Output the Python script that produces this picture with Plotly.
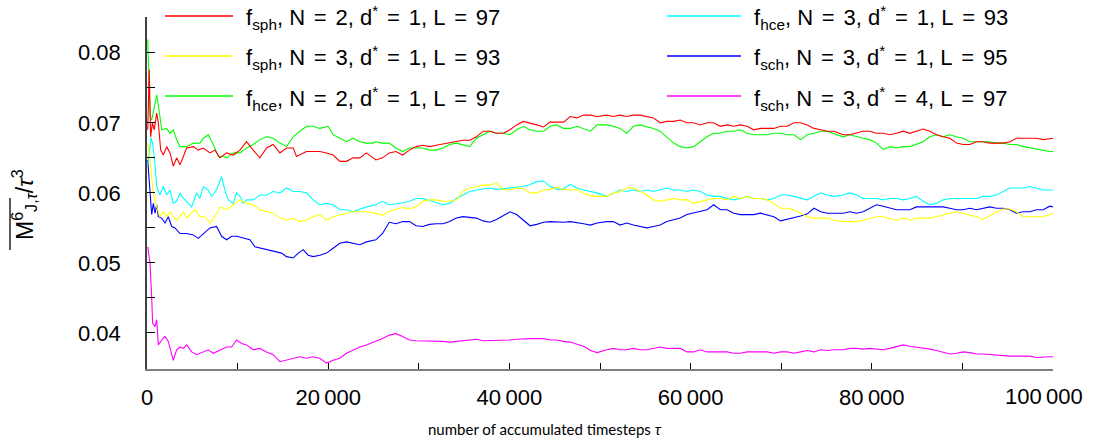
import plotly.graph_objects as go

# ---------------- data ----------------
# early part, tau < 25 000 (each series was read at its own tau positions)
tau_early_red = [80, 250, 400, 600, 800, 1070, 1250, 1510, 1800, 2170, 2540, 2900, 3270, 3640, 4010, 4370, 5110, 5660, 6210, 6950,
                 7500, 8050, 8790, 9520, 10260, 10990, 11730, 12460, 13200, 13930, 14670, 15400, 16140, 16500, 17600, 19080, 19810, 20550, 21280, 22020,
                 22750, 23490, 24220, 24960]
m_early_red = [0.0690, 0.0776, 0.0680, 0.0700, 0.0690, 0.0714, 0.0700, 0.0661, 0.0654, 0.0666, 0.0657, 0.0638, 0.0650, 0.0640, 0.0652, 0.0664, 0.0666, 0.0661, 0.0664, 0.0657,
               0.0661, 0.0650, 0.0657, 0.0654, 0.0661, 0.0673, 0.0661, 0.0650, 0.0664, 0.0669, 0.0657, 0.0664, 0.0664, 0.0652, 0.0659, 0.0659, 0.0657, 0.0654, 0.0645, 0.0645,
               0.0650, 0.0650, 0.0657, 0.0650]

tau_early_yellow = [80, 300, 700, 1070, 1430, 1800, 2170, 2540, 2900, 3270, 3640, 4010, 4370, 4740, 5290, 5840, 6400, 6950, 7500, 8050,
                    8790, 9520, 10260, 10990, 11730, 12460, 13200, 13930, 14670, 15400, 16140, 16870, 17610, 18340, 19080, 19810, 20550, 21280, 22020, 22750,
                    23490, 24220]
m_early_yellow = [0.0671, 0.0650, 0.0600, 0.0580, 0.0566, 0.0573, 0.0566, 0.0573, 0.0566, 0.0561, 0.0566, 0.0573, 0.0564, 0.0569, 0.0576, 0.0566, 0.0566, 0.0557, 0.0566, 0.0580,
                  0.0576, 0.0583, 0.0590, 0.0585, 0.0583, 0.0576, 0.0573, 0.0571, 0.0564, 0.0561, 0.0564, 0.0559, 0.0561, 0.0566, 0.0569, 0.0561, 0.0566, 0.0569, 0.0571, 0.0573,
                  0.0573, 0.0573]

tau_early_green = [80, 350, 520, 770, 1070, 1320, 1620, 2170, 2540, 2900, 3270, 3640, 4010, 4370, 5110, 5840, 6210, 6760, 7320, 7870,
                   8420, 8790, 9520, 10260, 10990, 11730, 12460, 13200, 13930, 14670, 15400, 16140, 16870, 17610, 18340, 19080, 20000, 20550, 21280, 22020,
                   22750, 23490, 24220, 24960]
m_early_green = [0.0819, 0.0710, 0.0704, 0.0719, 0.0740, 0.0719, 0.0690, 0.0692, 0.0685, 0.0690, 0.0676, 0.0666, 0.0666, 0.0666, 0.0671, 0.0671, 0.0678, 0.0683, 0.0669, 0.0652,
                 0.0652, 0.0650, 0.0657, 0.0657, 0.0664, 0.0669, 0.0676, 0.0680, 0.0678, 0.0671, 0.0666, 0.0680, 0.0688, 0.0695, 0.0695, 0.0692, 0.0695, 0.0683, 0.0678, 0.0673,
                 0.0678, 0.0673, 0.0671, 0.0671]

tau_early_cyan = [80, 450, 620, 880, 1070, 1430, 1800, 2170, 2540, 2900, 3270, 3640, 4010, 4370, 4930, 5480, 5840, 6210, 6760, 7130,
                  7680, 8230, 8600, 8970, 9520, 9890, 10260, 10620, 10990, 11730, 12460, 13200, 13930, 14670, 15400, 16140, 16870, 17610, 18340, 19080,
                  19810, 20550, 21280, 22020, 22750, 23490, 24220]
m_early_cyan = [0.0640, 0.0679, 0.0670, 0.0642, 0.0609, 0.0597, 0.0609, 0.0597, 0.0604, 0.0585, 0.0588, 0.0600, 0.0592, 0.0588, 0.0580, 0.0600, 0.0592, 0.0609, 0.0604, 0.0595,
                0.0604, 0.0623, 0.0604, 0.0590, 0.0585, 0.0600, 0.0595, 0.0585, 0.0590, 0.0590, 0.0597, 0.0597, 0.0602, 0.0600, 0.0607, 0.0602, 0.0602, 0.0600, 0.0590, 0.0583,
                0.0585, 0.0583, 0.0576, 0.0576, 0.0573, 0.0576, 0.0580]

tau_early_blue = [80, 300, 515, 700, 880, 1070, 1250, 1620, 1990, 2350, 2720, 3090, 3640, 4370, 5110, 5660, 6210, 6950, 7680, 8230,
                  8790, 9340, 9890, 10620, 11360, 11910, 12650, 13380, 14120, 14850, 15400, 16140, 16690, 17240, 17790, 18340, 19080, 19810, 20550, 21280,
                  22020, 22750, 23490, 24220]
m_early_blue = [0.0647, 0.0600, 0.0569, 0.0585, 0.0571, 0.0583, 0.0566, 0.0564, 0.0557, 0.0566, 0.0552, 0.0550, 0.0542, 0.0542, 0.0540, 0.0535, 0.0542, 0.0550, 0.0552, 0.0538,
                0.0533, 0.0538, 0.0538, 0.0535, 0.0533, 0.0523, 0.0521, 0.0519, 0.0516, 0.0514, 0.0509, 0.0507, 0.0514, 0.0519, 0.0511, 0.0509, 0.0511, 0.0514, 0.0521, 0.0528,
                0.0530, 0.0528, 0.0526, 0.0530]

tau_early_magenta = [80, 330, 515, 620, 880, 1070, 1250, 1620, 1990, 2350, 2900, 3270, 3640, 4010, 4370, 4930, 5480, 6210, 6760, 7320,
                     8050, 8790, 9340, 9890, 10440, 10990, 11730, 12460, 13200, 13930, 14670, 15400, 16140, 16870, 17610, 18340, 19080, 19810, 20550, 21280,
                     22020, 22750, 23490, 24220]
m_early_magenta = [0.0523, 0.0500, 0.0452, 0.0414, 0.0409, 0.0419, 0.0383, 0.0390, 0.0395, 0.0388, 0.0361, 0.0376, 0.0380, 0.0378, 0.0383, 0.0373, 0.0369, 0.0373, 0.0376, 0.0371,
                   0.0376, 0.0380, 0.0380, 0.0390, 0.0385, 0.0383, 0.0376, 0.0378, 0.0373, 0.0369, 0.0359, 0.0361, 0.0364, 0.0366, 0.0364, 0.0366, 0.0364, 0.0357, 0.0361, 0.0364,
                   0.0371, 0.0376, 0.0380, 0.0383]

# middle part, shared tau positions
tau_mid = [25260, 26000, 26740, 27480, 28220, 28960, 29700, 30440, 31180, 31920, 32660, 33400, 34140, 34880, 35620, 36360, 37100, 37840, 38580, 39320,
           40060, 40800, 41540, 42280, 43020, 43760, 44500, 45240, 45980, 46720, 47460, 48200, 48940, 49680]
m_mid_red = [0.0647, 0.0650, 0.0657, 0.0659, 0.0654, 0.0661, 0.0666, 0.0668, 0.0666, 0.0668, 0.0670, 0.0671, 0.0674, 0.0675, 0.0675, 0.0680, 0.0688, 0.0688, 0.0685, 0.0685,
             0.0690, 0.0697, 0.0702, 0.0700, 0.0697, 0.0694, 0.0701, 0.0701, 0.0701, 0.0709, 0.0707, 0.0711, 0.0711, 0.0709]
m_mid_yellow = [0.0571, 0.0568, 0.0574, 0.0577, 0.0579, 0.0577, 0.0580, 0.0588, 0.0590, 0.0590, 0.0588, 0.0588, 0.0590, 0.0602, 0.0607, 0.0609, 0.0611, 0.0611, 0.0614, 0.0605,
                0.0604, 0.0607, 0.0606, 0.0600, 0.0600, 0.0604, 0.0605, 0.0608, 0.0605, 0.0604, 0.0605, 0.0599, 0.0596, 0.0595]
m_mid_green = [0.0673, 0.0671, 0.0671, 0.0664, 0.0659, 0.0664, 0.0664, 0.0664, 0.0661, 0.0661, 0.0664, 0.0669, 0.0671, 0.0669, 0.0666, 0.0678, 0.0683, 0.0688, 0.0685, 0.0685,
               0.0683, 0.0690, 0.0695, 0.0690, 0.0688, 0.0688, 0.0695, 0.0697, 0.0692, 0.0692, 0.0695, 0.0692, 0.0688, 0.0697]
m_mid_cyan = [0.0583, 0.0588, 0.0583, 0.0584, 0.0586, 0.0588, 0.0592, 0.0592, 0.0589, 0.0586, 0.0583, 0.0585, 0.0592, 0.0597, 0.0602, 0.0604, 0.0605, 0.0607, 0.0605, 0.0606,
              0.0608, 0.0608, 0.0609, 0.0612, 0.0616, 0.0617, 0.0609, 0.0605, 0.0606, 0.0612, 0.0607, 0.0604, 0.0602, 0.0600]
m_mid_blue = [0.0533, 0.0542, 0.0558, 0.0556, 0.0559, 0.0559, 0.0553, 0.0552, 0.0555, 0.0556, 0.0556, 0.0559, 0.0564, 0.0566, 0.0565, 0.0564, 0.0560, 0.0558, 0.0562, 0.0567,
              0.0573, 0.0569, 0.0561, 0.0553, 0.0555, 0.0558, 0.0559, 0.0558, 0.0558, 0.0559, 0.0558, 0.0556, 0.0554, 0.0557]
m_mid_magenta = [0.0388, 0.0392, 0.0397, 0.0399, 0.0395, 0.0390, 0.0389, 0.0389, 0.0389, 0.0389, 0.0388, 0.0387, 0.0388, 0.0390, 0.0391, 0.0391, 0.0389, 0.0389, 0.0390, 0.0390,
                 0.0390, 0.0391, 0.0392, 0.0392, 0.0392, 0.0392, 0.0390, 0.0390, 0.0388, 0.0387, 0.0384, 0.0381, 0.0375, 0.0372]

# late part, shared tau positions
tau_late = [50740, 51480, 52210, 52950, 53690, 54430, 55170, 55900, 56640, 57380, 58120, 58860, 59590, 60330, 61070, 61810, 62550, 63280, 64020, 64760,
            65500, 66240, 66970, 67710, 68450, 69190, 69930, 70660, 71400, 72140, 72880, 73620, 74350, 75090, 75830,
            76840, 77570, 78310, 79040, 79780, 80520, 81250, 81990, 82720, 83460, 84200, 84930, 85670, 86400, 87140, 87880, 88610, 89350, 90080, 90820,
            91560, 92290, 93030, 93760, 94500, 95240, 95970, 96710, 97440, 98180, 98920, 99650, 100000]
m_late_red = [0.0711, 0.0709, 0.0711, 0.0709, 0.0711, 0.0711, 0.0709, 0.0707, 0.0700, 0.0702, 0.0702, 0.0704, 0.0700, 0.0700, 0.0697, 0.0700, 0.0700, 0.0695, 0.0697, 0.0695,
              0.0697, 0.0695, 0.0690, 0.0692, 0.0692, 0.0692, 0.0695, 0.0695, 0.0700, 0.0700, 0.0697, 0.0692, 0.0690, 0.0688, 0.0688,
              0.0683, 0.0683, 0.0685, 0.0688, 0.0688, 0.0685, 0.0685, 0.0683, 0.0685, 0.0688, 0.0685, 0.0688, 0.0691, 0.0688, 0.0683, 0.0680, 0.0678, 0.0671, 0.0669, 0.0669,
              0.0673, 0.0673, 0.0671, 0.0671, 0.0671, 0.0673, 0.0678, 0.0678, 0.0678, 0.0678, 0.0676, 0.0678, 0.0678]
m_late_yellow = [0.0595, 0.0600, 0.0602, 0.0607, 0.0607, 0.0602, 0.0597, 0.0590, 0.0588, 0.0590, 0.0592, 0.0590, 0.0590, 0.0585, 0.0588, 0.0590, 0.0592, 0.0592, 0.0590, 0.0595,
                 0.0592, 0.0595, 0.0592, 0.0592, 0.0590, 0.0585, 0.0578, 0.0578, 0.0576, 0.0571, 0.0566, 0.0564, 0.0564, 0.0564, 0.0561,
                 0.0559, 0.0559, 0.0559, 0.0561, 0.0564, 0.0566, 0.0566, 0.0564, 0.0561, 0.0564, 0.0561, 0.0564, 0.0564, 0.0564, 0.0566, 0.0569, 0.0571, 0.0573, 0.0571, 0.0569,
                 0.0566, 0.0562, 0.0568, 0.0573, 0.0577, 0.0577, 0.0573, 0.0566, 0.0566, 0.0566, 0.0566, 0.0569, 0.0571]
m_late_green = [0.0697, 0.0695, 0.0692, 0.0685, 0.0695, 0.0697, 0.0695, 0.0692, 0.0688, 0.0680, 0.0671, 0.0666, 0.0664, 0.0666, 0.0673, 0.0680, 0.0685, 0.0685, 0.0688, 0.0688,
                0.0690, 0.0685, 0.0683, 0.0683, 0.0683, 0.0685, 0.0685, 0.0683, 0.0683, 0.0676, 0.0683, 0.0685, 0.0688, 0.0688, 0.0685,
                0.0680, 0.0683, 0.0680, 0.0678, 0.0676, 0.0671, 0.0662, 0.0666, 0.0664, 0.0666, 0.0666, 0.0669, 0.0673, 0.0680, 0.0683, 0.0680, 0.0683, 0.0680, 0.0678, 0.0673,
                0.0673, 0.0673, 0.0673, 0.0671, 0.0671, 0.0669, 0.0669, 0.0666, 0.0664, 0.0662, 0.0661, 0.0659, 0.0659]
m_late_cyan = [0.0595, 0.0600, 0.0604, 0.0602, 0.0604, 0.0602, 0.0604, 0.0602, 0.0604, 0.0607, 0.0604, 0.0604, 0.0602, 0.0604, 0.0602, 0.0597, 0.0595, 0.0595, 0.0592, 0.0590,
               0.0592, 0.0595, 0.0592, 0.0592, 0.0590, 0.0592, 0.0597, 0.0597, 0.0595, 0.0592, 0.0590, 0.0595, 0.0600, 0.0597, 0.0595,
               0.0597, 0.0600, 0.0597, 0.0592, 0.0592, 0.0592, 0.0590, 0.0592, 0.0592, 0.0590, 0.0592, 0.0595, 0.0588, 0.0583, 0.0585, 0.0590, 0.0592, 0.0592, 0.0592, 0.0592,
               0.0592, 0.0595, 0.0595, 0.0597, 0.0602, 0.0607, 0.0607, 0.0607, 0.0609, 0.0607, 0.0604, 0.0604, 0.0604]
m_late_blue = [0.0559, 0.0559, 0.0554, 0.0557, 0.0554, 0.0552, 0.0550, 0.0552, 0.0554, 0.0559, 0.0561, 0.0564, 0.0569, 0.0571, 0.0573, 0.0576, 0.0583, 0.0576, 0.0576, 0.0571,
               0.0569, 0.0569, 0.0569, 0.0571, 0.0569, 0.0566, 0.0560, 0.0562, 0.0565, 0.0567, 0.0570, 0.0578, 0.0573, 0.0571, 0.0571,
               0.0571, 0.0573, 0.0571, 0.0573, 0.0578, 0.0583, 0.0581, 0.0578, 0.0576, 0.0576, 0.0576, 0.0580, 0.0580, 0.0580, 0.0580, 0.0580, 0.0578, 0.0576, 0.0576, 0.0578,
               0.0576, 0.0578, 0.0580, 0.0578, 0.0578, 0.0576, 0.0571, 0.0573, 0.0573, 0.0576, 0.0576, 0.0581, 0.0580]
m_late_magenta = [0.0376, 0.0378, 0.0376, 0.0376, 0.0378, 0.0376, 0.0376, 0.0378, 0.0380, 0.0378, 0.0378, 0.0378, 0.0373, 0.0373, 0.0376, 0.0373, 0.0373, 0.0373, 0.0373, 0.0371,
                  0.0371, 0.0373, 0.0373, 0.0373, 0.0373, 0.0371, 0.0373, 0.0373, 0.0371, 0.0373, 0.0375, 0.0373, 0.0376, 0.0375, 0.0376,
                  0.0376, 0.0378, 0.0378, 0.0377, 0.0378, 0.0377, 0.0376, 0.0378, 0.0381, 0.0383, 0.0381, 0.0380, 0.0378, 0.0377, 0.0375, 0.0372, 0.0370, 0.0371, 0.0373, 0.0372,
                  0.0370, 0.0370, 0.0369, 0.0368, 0.0367, 0.0367, 0.0367, 0.0367, 0.0367, 0.0365, 0.0366, 0.0366, 0.0366]

SP = "\u2009\u2009"  # wider gap around "=" like in the reference
labels = [f"f<sub>sph</sub>, N{SP}={SP}2, d<sup>*</sup>{SP}={SP}1, L{SP}={SP}97",
          f"f<sub>sph</sub>, N{SP}={SP}3, d<sup>*</sup>{SP}={SP}1, L{SP}={SP}93",
          f"f<sub>hce</sub>, N{SP}={SP}2, d<sup>*</sup>{SP}={SP}1, L{SP}={SP}97",
          f"f<sub>hce</sub>, N{SP}={SP}3, d<sup>*</sup>{SP}={SP}1, L{SP}={SP}93",
          f"f<sub>sch</sub>, N{SP}={SP}3, d<sup>*</sup>{SP}={SP}1, L{SP}={SP}95",
          f"f<sub>sch</sub>, N{SP}={SP}3, d<sup>*</sup>{SP}={SP}4, L{SP}={SP}97"]
colors = ["#ff0000", "#ffff00", "#00ff00", "#00ffff", "#0000ff", "#ff00ff"]

x_tickvals = [0, 20000, 40000, 60000, 80000, 100000]
x_ticktext = ["0", "20\u2009000", "40\u2009000", "60\u2009000", "80\u2009000", ""]
x_last_label = "100\u2009000"   # drawn slightly left of its tick, as in the reference
y_tickvals = [0.04, 0.05, 0.06, 0.07, 0.08]
y_ticktext = ["0.04", "0.05", "0.06", "0.07", "0.08"]

series = [
    (tau_early_red + tau_mid + tau_late, m_early_red + m_mid_red + m_late_red),
    (tau_early_yellow + tau_mid + tau_late, m_early_yellow + m_mid_yellow + m_late_yellow),
    (tau_early_green + tau_mid + tau_late, m_early_green + m_mid_green + m_late_green),
    (tau_early_cyan + tau_mid + tau_late, m_early_cyan + m_mid_cyan + m_late_cyan),
    (tau_early_blue + tau_mid + tau_late, m_early_blue + m_mid_blue + m_late_blue),
    (tau_early_magenta + tau_mid + tau_late, m_early_magenta + m_mid_magenta + m_late_magenta),
]

# ---------------- figure ----------------
W, H = 1094, 443
L, R, T, B = 147, 41, 17, 74
PW, PH = W - L - R, H - T - B

def px(xp):
    return (xp - L) / PW

def py(yp):
    return (H - B - yp) / PH

fig = go.Figure()
draw_order = [4, 5, 3, 1, 2, 0]
for i in draw_order:
    t, v = series[i]
    fig.add_trace(go.Scatter(x=t, y=v, mode="lines", name=labels[i],
                             line=dict(color=colors[i], width=1.1), showlegend=False,
                             hoverinfo="skip"))

# legend drawn manually (two columns, long line samples)
rows_y = [16, 56, 96]
shapes = []
annotations = []
for i in range(6):
    col, row = divmod(i, 3)
    x0, x1, xt = (165, 233, 244) if col == 0 else (667, 741, 752)
    yy = py(rows_y[row])
    shapes.append(dict(type="line", xref="paper", yref="paper", x0=px(x0), x1=px(x1), y0=yy, y1=yy,
                       line=dict(color=colors[i], width=1.5)))
    annotations.append(dict(xref="paper", yref="paper", x=px(xt), y=py(rows_y[row] + 2), xanchor="left", yanchor="middle",
                            text=labels[i], showarrow=False,
                            font=dict(family="Liberation Sans", size=22, color="black")))

annotations.append(dict(xref="x", yref="paper", x=x_tickvals[-1], xshift=-9, y=py(396), xanchor="center", yanchor="middle",
                        text=x_last_label, showarrow=False,
                        font=dict(family="Liberation Sans", size=22, color="black")))
annotations.append(dict(xref="paper", yref="paper", x=px(545), y=py(429), xanchor="center", yanchor="middle",
                        text="number of accumulated timesteps <i>\u03c4</i>", showarrow=False,
                        font=dict(family="Lato", size=15, color="black")))
annotations.append(dict(xref="paper", yref="paper", x=px(24), y=py(205), xanchor="center", yanchor="middle",
                        text="M<sup>6</sup><sub>J,<i>\u03c4</i></sub>/<i>\u03c4</i><sup>3</sup>", textangle=-90, showarrow=False,
                        font=dict(family="Liberation Sans", size=23, color="black")))
# overline of the y-axis title
shapes.append(dict(type="line", xref="paper", yref="paper", x0=px(10), x1=px(10), y0=py(250), y1=py(198),
                   line=dict(color="black", width=1.3)))

fig.update_layout(
    width=W, height=H,
    margin=dict(l=L, r=R, t=T, b=B, pad=0, autoexpand=False),
    paper_bgcolor="white", plot_bgcolor="white",
    shapes=shapes, annotations=annotations,
    font=dict(family="Liberation Sans", size=22, color="black"),
    xaxis=dict(range=[0, 100000], showgrid=False, zeroline=False, automargin=False,
               showline=True, linecolor="#808080", linewidth=1.5,
               tickmode="array", tickvals=x_tickvals, ticktext=x_ticktext,
               ticks="inside", ticklen=6, tickcolor="black", tickwidth=1,
               ticklabelstandoff=8,
               minor=dict(dtick=10000, tick0=0, ticks="inside", ticklen=6, tickcolor="black", showgrid=False),
               tickfont=dict(family="Liberation Sans", size=22)),
    yaxis=dict(range=[0.03486, 0.0851], showgrid=False, zeroline=False, automargin=False,
               showline=True, linecolor="#404040", linewidth=1.5,
               tickmode="array", tickvals=y_tickvals, ticktext=y_ticktext,
               ticks="inside", ticklen=8, tickcolor="black", tickwidth=1,
               ticklabelstandoff=20,
               minor=dict(dtick=0.005, tick0=0.035, ticks="inside", ticklen=8, tickcolor="black", showgrid=False),
               tickfont=dict(family="Liberation Sans", size=22)),
)

fig.write_html("out.html")
